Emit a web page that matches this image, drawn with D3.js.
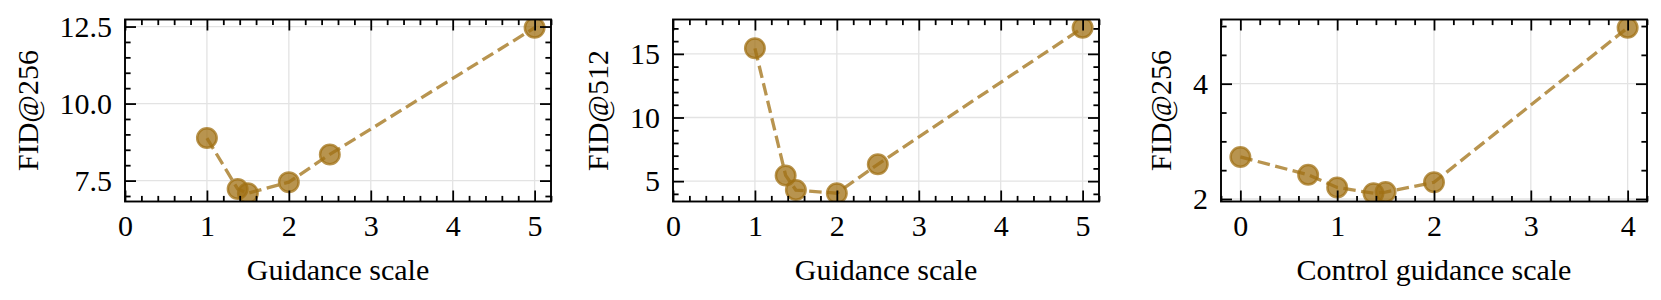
<!DOCTYPE html>
<html>
<head>
<meta charset="utf-8">
<script src="https://cdn.jsdelivr.net/npm/d3@7"></script>
<style>
  body { margin: 0; background: #fff; }
</style>
</head>
<body>
<svg id="chart" width="1661" height="300"></svg>
<script>
// data
var xs1 = [1, 1.375, 1.5, 2, 2.5, 5];
var fid256 = [8.88, 7.23, 7.09, 7.45, 8.35, 12.46];

var xs2 = [1, 1.375, 1.5, 2, 2.5, 5];
var fid512 = [15.44, 5.45, 4.3, 4.05, 6.32, 17.05];

var xs3 = [0, 0.7, 1, 1.375, 1.5, 2, 4];
var fidCtrl = [2.73, 2.42, 2.2, 2.1, 2.12, 2.29, 4.97];

var xTicks1 = [0, 1, 2, 3, 4, 5];
var xTicks3 = [0, 1, 2, 3, 4];
var yTicks1 = [7.5, 10, 12.5];
var yTicks2 = [5, 10, 15];
var yTicks3 = [2, 4];

var xLabels = ['Guidance scale', 'Guidance scale', 'Control guidance scale'];
var yLabels = ['FID@256', 'FID@512', 'FID@256'];

var color = '#a07014';
var alpha = 0.75;
var fs = 30;
var font = '"Liberation Serif", "Times New Roman", "DejaVu Serif", serif';
var top0 = 19.5, bottom0 = 201.5, panelW = 426;
var lefts = [125, 673, 1221];

var panels = [
  {x: xs1, y: fid256, xt: xTicks1, yt: yTicks1, xmin: 0, yfmt: d3.format('.1f'), xminor: 0.2, yminor: 0.5},
  {x: xs2, y: fid512, xt: xTicks1, yt: yTicks2, xmin: 0, yfmt: d3.format('d'), xminor: 0.2, yminor: 1},
  {x: xs3, y: fidCtrl, xt: xTicks3, yt: yTicks3, xmin: null, yfmt: d3.format('d'), xminor: 0.2, yminor: 0.5}
];

var svg = d3.select('#chart');

// minor ticks between domain ends, skipping majors
function minorTicks(domain, step, majors){
  var out = [];
  var start = Math.ceil(domain[0] / step - 1e-9);
  var end = Math.floor(domain[1] / step + 1e-9);
  for (var k = start; k <= end; k++) {
    var v = +(k * step).toFixed(6);
    if (majors.every(function(m){ return Math.abs(m - v) > 1e-6; })) out.push(v);
  }
  return out;
}

function styleAxis(g){
  g.select('.domain').remove();
  g.attr('font-family', font).attr('font-size', fs);
  g.selectAll('.tick line').attr('stroke', '#000').attr('stroke-width', 1.8);
  g.selectAll('text').attr('font-family', font).attr('font-size', fs).attr('fill', '#000');
}

panels.forEach(function(p, i){
  var left = lefts[i];
  var xExt = d3.extent(p.x), yExt = d3.extent(p.y);
  var xm = (xExt[1] - xExt[0]) * 0.05, ym = (yExt[1] - yExt[0]) * 0.05;
  var xDom = [p.xmin === null ? xExt[0] - xm : p.xmin, xExt[1] + xm];
  var yDom = [yExt[0] - ym, yExt[1] + ym];

  var x = d3.scaleLinear().domain(xDom).range([0, panelW]);
  var y = d3.scaleLinear().domain(yDom).range([bottom0 - top0, 0]);
  var h = bottom0 - top0;

  var g = svg.append('g').attr('transform', 'translate(' + left + ',' + top0 + ')');

  g.append('clipPath').attr('id', 'clip' + i)
    .append('rect').attr('width', panelW).attr('height', h);

  // grid
  g.append('g').selectAll('line').data(p.xt).enter().append('line')
    .attr('x1', function(d){ return x(d); }).attr('x2', function(d){ return x(d); })
    .attr('y1', 0).attr('y2', h)
    .attr('stroke', '#e3e3e3').attr('stroke-width', 1.3);
  g.append('g').selectAll('line').data(p.yt).enter().append('line')
    .attr('y1', function(d){ return y(d); }).attr('y2', function(d){ return y(d); })
    .attr('x1', 0).attr('x2', panelW)
    .attr('stroke', '#e3e3e3').attr('stroke-width', 1.3);

  // data
  var pts = p.x.map(function(v, k){ return [v, p.y[k]]; });
  var plot = g.append('g').attr('clip-path', 'url(#clip' + i + ')');
  plot.append('path').datum(pts)
    .attr('d', d3.line().x(function(d){ return x(d[0]); }).y(function(d){ return y(d[1]); }))
    .attr('fill', 'none').attr('stroke', color).attr('stroke-opacity', alpha)
    .attr('stroke-width', 3.3).attr('stroke-dasharray', '12.5,5.5');
  plot.selectAll('circle').data(pts).enter().append('circle')
    .attr('cx', function(d){ return x(d[0]); })
    .attr('cy', function(d){ return y(d[1]); })
    .attr('r', 9.75)
    .attr('fill', color).attr('fill-opacity', alpha)
    .attr('stroke', color).attr('stroke-opacity', alpha).attr('stroke-width', 2.5);

  var xMinor = minorTicks(xDom, p.xminor, p.xt);
  var yMinor = minorTicks(yDom, p.yminor, p.yt);

  // bottom axis with labels
  var bx = g.append('g').attr('transform', 'translate(0,' + h + ')')
    .call(d3.axisBottom(x).tickValues(p.xt).tickSize(-11).tickPadding(13).tickFormat(d3.format('d')));
  styleAxis(bx);
  styleAxis(g.append('g').attr('transform', 'translate(0,' + h + ')')
    .call(d3.axisBottom(x).tickValues(xMinor).tickSize(-5.6).tickFormat('')));
  // top axis, ticks only
  styleAxis(g.append('g').call(d3.axisTop(x).tickValues(p.xt).tickSize(-11).tickFormat('')));
  styleAxis(g.append('g').call(d3.axisTop(x).tickValues(xMinor).tickSize(-5.6).tickFormat('')));

  // left axis with labels
  var ly = g.append('g')
    .call(d3.axisLeft(y).tickValues(p.yt).tickSize(-11).tickPadding(13).tickFormat(p.yfmt));
  styleAxis(ly);
  styleAxis(g.append('g').call(d3.axisLeft(y).tickValues(yMinor).tickSize(-5.6).tickFormat('')));
  // right axis, ticks only
  styleAxis(g.append('g').attr('transform', 'translate(' + panelW + ',0)')
    .call(d3.axisRight(y).tickValues(p.yt).tickSize(-11).tickFormat('')));
  styleAxis(g.append('g').attr('transform', 'translate(' + panelW + ',0)')
    .call(d3.axisRight(y).tickValues(yMinor).tickSize(-5.6).tickFormat('')));

  // frame
  g.append('rect').attr('width', panelW).attr('height', h)
    .attr('fill', 'none').attr('stroke', '#000').attr('stroke-width', 1.9);

  // axis labels
  g.append('text').attr('x', panelW / 2).attr('y', 280 - top0)
    .attr('text-anchor', 'middle').attr('font-family', font).attr('font-size', fs)
    .text(xLabels[i]);

  var tb = ly.node().getBBox();
  var lx = tb.x - 15 - 0.22 * fs;
  g.append('text')
    .attr('transform', 'translate(' + lx + ',' + (h / 2) + ') rotate(-90)')
    .attr('text-anchor', 'middle').attr('font-family', font).attr('font-size', fs)
    .text(yLabels[i]);
});
</script>
</body>
</html>
